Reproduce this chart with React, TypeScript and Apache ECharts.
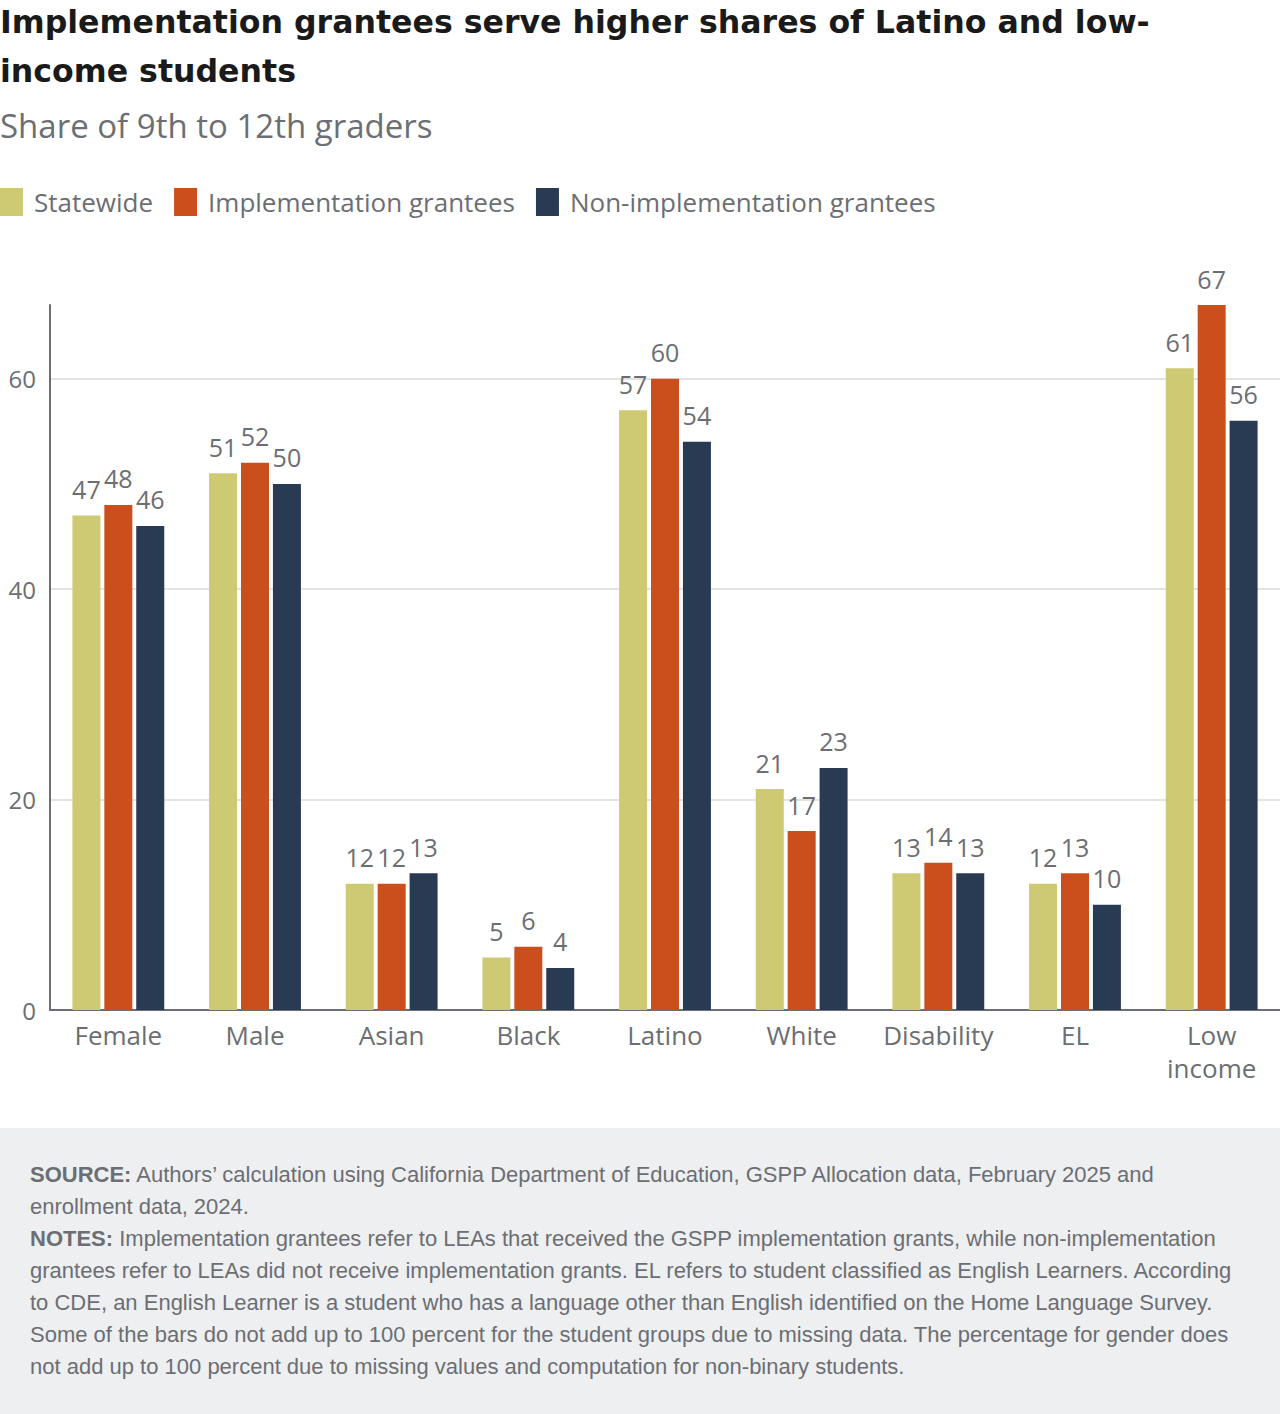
import React, { useEffect, useRef } from "react";
import * as echarts from "echarts";

const categories = ["Female", "Male", "Asian", "Black", "Latino", "White", "Disability", "EL", "Low\nincome"];
const statewide = [47, 51, 12, 5, 57, 21, 13, 12, 61];
const implementation = [48, 52, 12, 6, 60, 17, 14, 13, 67];
const nonImplementation = [46, 50, 13, 4, 54, 23, 13, 10, 56];
const seriesNames = ["Statewide", "Implementation grantees", "Non-implementation grantees"];
const seriesColors = ["#cdca73", "#ca4f1d", "#293a53"];

const titleLines = ["Implementation grantees serve higher shares of Latino and low-", "income students"];
const subtitle = "Share of 9th to 12th graders";

// Footer lines: [bold lead-in, rest of line]
const footerLines: [string, string][] = [
  ["SOURCE:", " Authors\u2019 calculation using California Department of Education, GSPP Allocation data, February 2025 and"],
  ["", "enrollment data, 2024."],
  ["NOTES:", " Implementation grantees refer to LEAs that received the GSPP implementation grants, while non-implementation"],
  ["", "grantees refer to LEAs did not receive implementation grants. EL refers to student classified as English Learners. According"],
  ["", "to CDE, an English Learner is a student who has a language other than English identified on the Home Language Survey."],
  ["", "Some of the bars do not add up to 100 percent for the student groups due to missing data. The percentage for gender does"],
  ["", "not add up to 100 percent due to missing values and computation for non-binary students."],
];

const GRAY = "#6b6e73";
const FONT = "'Open Sans', Lato, sans-serif";
const TITLE_FONT = "'DejaVu Sans', 'Open Sans', sans-serif";
const FOOT_FONT = "'Liberation Sans', Arial, sans-serif";

export default function App() {
  const ref = useRef<HTMLDivElement>(null);

  useEffect(() => {
    document.body.style.margin = "0";
    if (!ref.current) return;
    const chart = echarts.init(ref.current, null, { renderer: "svg" });

    const seriesData = [statewide, implementation, nonImplementation];

    const graphics: any[] = [
      ...titleLines.map((t, i) => ({
        type: "text",
        x: 0,
        y: 22 + i * 49,
        style: { text: t, fill: "#1a1a1a", font: `bold 31.6px ${TITLE_FONT}`, verticalAlign: "middle" },
      })),
      {
        type: "text",
        x: 0,
        y: 125,
        style: { text: subtitle, fill: GRAY, font: `33px ${FONT}`, verticalAlign: "middle" },
      },
      {
        type: "rect",
        shape: { x: 0, y: 1128, width: 1280, height: 286 },
        style: { fill: "#eeeff1" },
        z: -10,
      },
      ...footerLines.map(([b, t], i) => ({
        type: "text",
        x: 30,
        y: 1174 + i * 32,
        style: {
          text: (b ? `{b|${b}}` : "") + `{n|${t}}`,
          verticalAlign: "middle",
          rich: {
            b: { fontFamily: FOOT_FONT, fontSize: 22, fontWeight: "bold", fill: GRAY },
            n: { fontFamily: FOOT_FONT, fontSize: 22, fill: GRAY },
          },
        },
      })),
    ];

    chart.setOption({
      animation: false,
      color: seriesColors,
      textStyle: { fontFamily: FONT },
      legend: {
        left: 0,
        top: 188,
        padding: 0,
        itemWidth: 23,
        itemHeight: 28,
        itemGap: 21,
        icon: "rect",
        textStyle: { fontSize: 26, color: GRAY, fontFamily: FONT, padding: [0, 0, 0, 6] },
        data: seriesNames,
      },
      grid: { left: 50, right: 0, top: 305, bottom: 404, containLabel: false },
      xAxis: {
        type: "category",
        data: categories,
        axisLine: { lineStyle: { color: GRAY, width: 2 } },
        axisTick: { show: false },
        axisLabel: { interval: 0, fontSize: 26, color: GRAY, margin: 8, lineHeight: 33, fontFamily: FONT },
      },
      yAxis: {
        type: "value",
        min: 0,
        max: 67,
        interval: 20,
        axisLine: { show: true, lineStyle: { color: GRAY, width: 2 } },
        axisTick: { show: false },
        axisLabel: { fontSize: 24, color: GRAY, margin: 14, showMaxLabel: false, fontFamily: FONT },
        splitLine: { lineStyle: { color: "#e3e3e3", width: 2 }, showMaxLine: false },
      },
      series: seriesNames.map((name, i) => ({
        name,
        type: "bar",
        data: seriesData[i],
        barWidth: 28,
        barGap: "14%",
        label: {
          show: true,
          position: "top",
          distance: 14,
          fontSize: 25,
          color: GRAY,
          fontFamily: FONT,
        },
      })),
      graphic: graphics,
    });

    return () => chart.dispose();
  }, []);

  return <div ref={ref} style={{ width: 1280, height: 1414 }} />;
}
